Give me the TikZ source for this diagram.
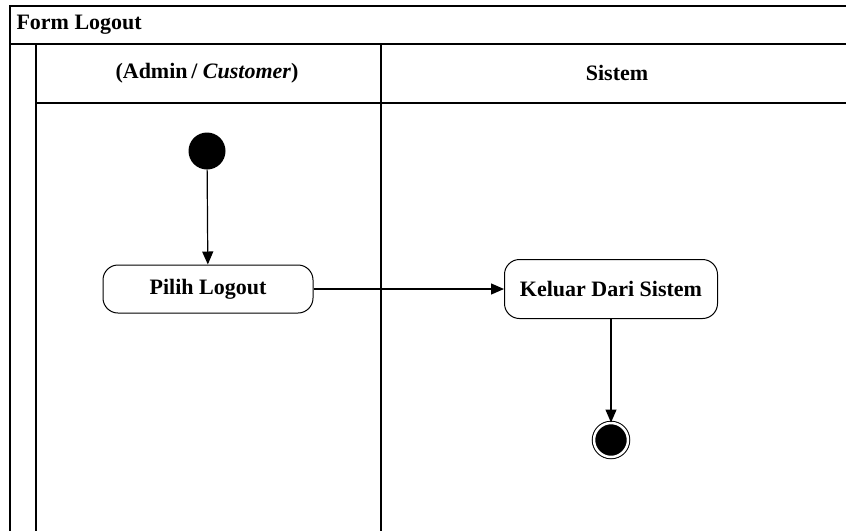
\documentclass[tikz,border=0pt]{standalone}
\usepackage{fontspec}
\setmainfont{Liberation Serif}
\usetikzlibrary{arrows.meta}
\tikzset{
  lane/.style = {line width=1.1pt},
  action/.style = {draw, line width=1pt, rounded corners=15pt, align=center,
    font=\fontsize{22}{26}\selectfont\bfseries},
  lanelabel/.style = {font=\fontsize{22}{26}\selectfont\bfseries},
  startstate/.style = {circle, fill=black, minimum size=37pt, inner sep=0pt},
  endstate/.style = {circle, draw, line width=1pt, fill=black, minimum size=34pt,
    inner sep=0pt, double=white, double distance=2.5pt},
  flow/.style = {-{Triangle[width=11pt,length=13pt]}, line width=1.2pt}
}
\begin{document}
\begin{tikzpicture}[x=1pt,y=-1pt]
  \useasboundingbox (0,0) rectangle (846,531);
  % swimlanes
  \draw[lane] (846,6) -- (10,6) -- (10,531);
  \draw[lane] (10,44) -- (846,44);
  \draw[lane] (36,44) -- (36,531);
  \draw[lane] (36,103) -- (846,103);
  \draw[lane] (381,44) -- (381,531);
  \node[lanelabel, anchor=west] (title) at (13,25) {Form Logout};
  \node[lanelabel] (user) at (207,73) {(Admin\,/ \textit{Customer})};
  \node[lanelabel] (sistem) at (617,73) {Sistem};
  % activities
  \node[startstate] (start) at (207,151) {};
  \node[action, minimum width=210pt, minimum height=48pt] (pilih) at (208,289) {Pilih Logout};
  \node[action, minimum width=213pt, minimum height=59pt] (keluar) at (611,289) {Keluar Dari Sistem};
  \node[endstate] (end) at (611,440) {};
  \draw[flow] (start) -- (pilih);
  \draw[flow] (pilih) -- (keluar);
  \draw[flow] (keluar) -- (end);
\end{tikzpicture}
\end{document}
